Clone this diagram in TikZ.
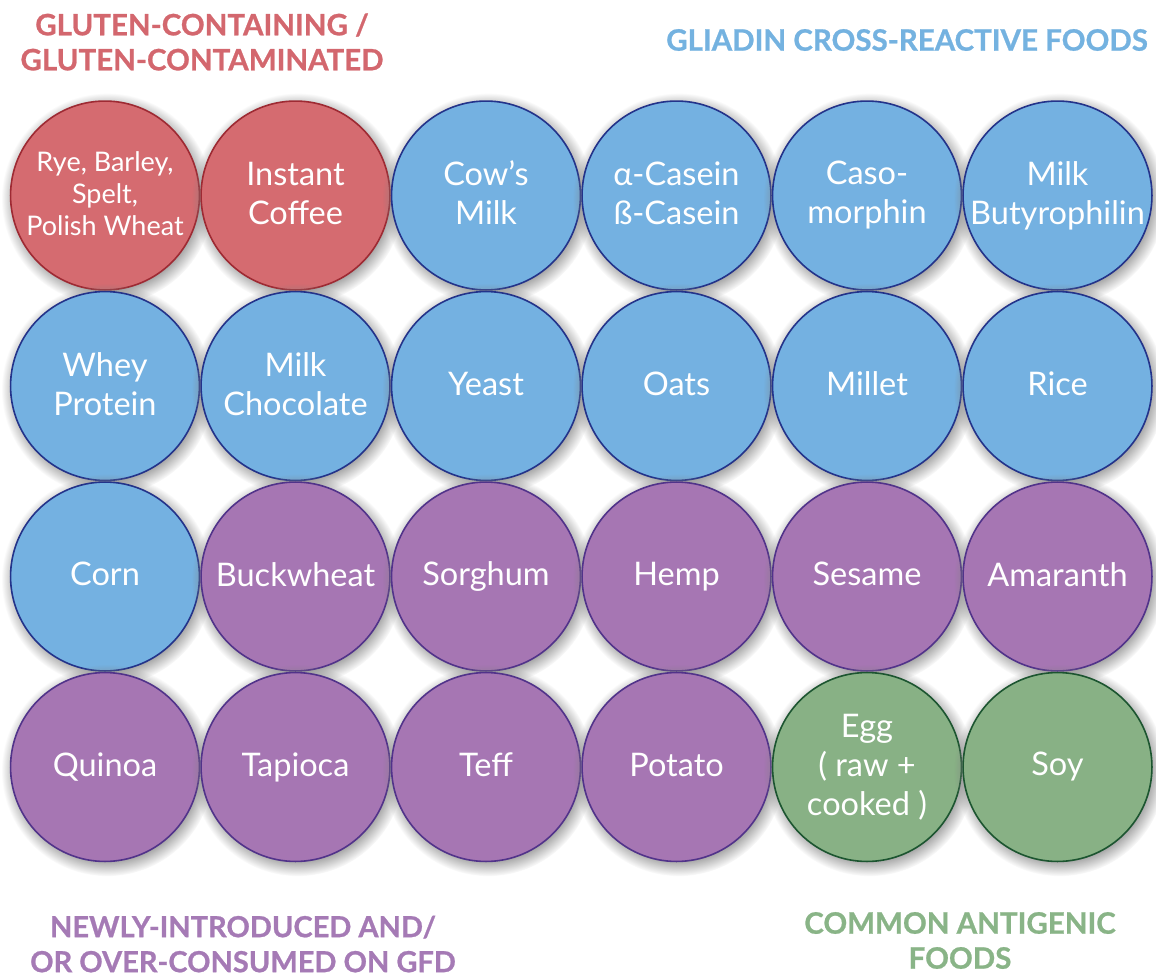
\documentclass[tikz,border=0pt]{standalone}
\usepackage{fontspec}
\setmainfont{Lato}
\newfontfamily\headfont[BoldFeatures={FakeBold=0.8}]{Lato}
\usetikzlibrary{positioning, shadows}
\definecolor{redfill}{HTML}{D56B70}
\definecolor{redline}{HTML}{9E2A33}
\definecolor{bluefill}{HTML}{74B1E1}
\definecolor{blueline}{HTML}{23338A}
\definecolor{purplefill}{HTML}{A676B3}
\definecolor{purpleline}{HTML}{51338A}
\definecolor{greenfill}{HTML}{88B185}
\definecolor{greenline}{HTML}{1C5530}
\definecolor{redtext}{HTML}{D3676E}
\definecolor{bluetext}{HTML}{74B2E0}
\definecolor{purpletext}{HTML}{A57AB5}
\definecolor{greentext}{HTML}{89B487}
\newcommand{\capstrut}{\rule[-0.15em]{0pt}{0.8665em}}
\tikzstyle{food} = [circle, minimum size=188.9pt, inner sep=0pt, line width=1.6pt, text=white, align=center, font=\fontsize{32.5}{39}\selectfont, execute at begin node=\capstrut, execute at end node=\capstrut, circular drop shadow={shadow scale=1.12, shadow xshift=2pt, shadow yshift=-3pt, opacity=0.7}]
\tikzstyle{gluten} = [food, fill=redfill, draw=redline]
\tikzstyle{gliadin} = [food, fill=bluefill, draw=blueline]
\tikzstyle{newfood} = [food, fill=purplefill, draw=purpleline]
\tikzstyle{antigen} = [food, fill=greenfill, draw=greenline]
\tikzstyle{heading} = [font=\headfont\bfseries\fontsize{29.5}{35}\selectfont, align=center]

\begin{document}
\begin{tikzpicture}[node distance=0cm]
    \useasboundingbox (0,0) rectangle (1156pt,-977pt);

    % row 1
    \node (rye) [gluten, font=\fontsize{27}{32}\selectfont] at (105pt,-195.5pt) {Rye, Barley,\\Spelt,\\Polish Wheat};
    \node (coffee) [gluten, right=of rye] {Instant\\Coffee};
    \node (cowmilk) [gliadin, right=of coffee] {Cow’s\\Milk};
    \node (casein) [gliadin, right=of cowmilk] {α-Casein\\ß-Casein};
    \node (caso) [gliadin, right=of casein] {Caso-\\morphin};
    \node (butyro) [gliadin, right=of caso] {Milk\\Butyrophilin};

    % row 2
    \node (whey) [gliadin, below=of rye] {Whey\\Protein};
    \node (choc) [gliadin, right=of whey] {Milk\\Chocolate};
    \node (yeast) [gliadin, right=of choc] {Yeast};
    \node (oats) [gliadin, right=of yeast] {Oats};
    \node (millet) [gliadin, right=of oats] {Millet};
    \node (rice) [gliadin, right=of millet] {Rice};

    % row 3
    \node (corn) [gliadin, below=of whey] {Corn};
    \node (buck) [newfood, right=of corn] {Buckwheat};
    \node (sorghum) [newfood, right=of buck] {Sorghum};
    \node (hemp) [newfood, right=of sorghum] {Hemp};
    \node (sesame) [newfood, right=of hemp] {Sesame};
    \node (amaranth) [newfood, right=of sesame] {Amaranth};

    % row 4
    \node (quinoa) [newfood, below=of corn] {Quinoa};
    \node (tapioca) [newfood, right=of quinoa] {Tapioca};
    \node (teff) [newfood, right=of tapioca] {Teff};
    \node (potato) [newfood, right=of teff] {Potato};
    \node (egg) [antigen, right=of potato] {Egg\\( raw +\\cooked )};
    \node (soy) [antigen, right=of egg] {Soy};

    % headings
    \node (gtitle) [heading, text=redtext] at (202pt,-42pt) {GLUTEN-CONTAINING /\\GLUTEN-CONTAMINATED};
    \node (btitle) [heading, text=bluetext] at (907pt,-40pt) {GLIADIN CROSS-REACTIVE FOODS};
    \node (ptitle) [heading, text=purpletext, font=\headfont\bfseries\fontsize{29}{35}\selectfont] at (243pt,-944pt) {NEWLY-INTRODUCED AND/\\OR OVER-CONSUMED ON GFD};
    \node (atitle) [heading, text=greentext] at (960pt,-940.5pt) {COMMON ANTIGENIC\\FOODS};

\end{tikzpicture}
\end{document}
